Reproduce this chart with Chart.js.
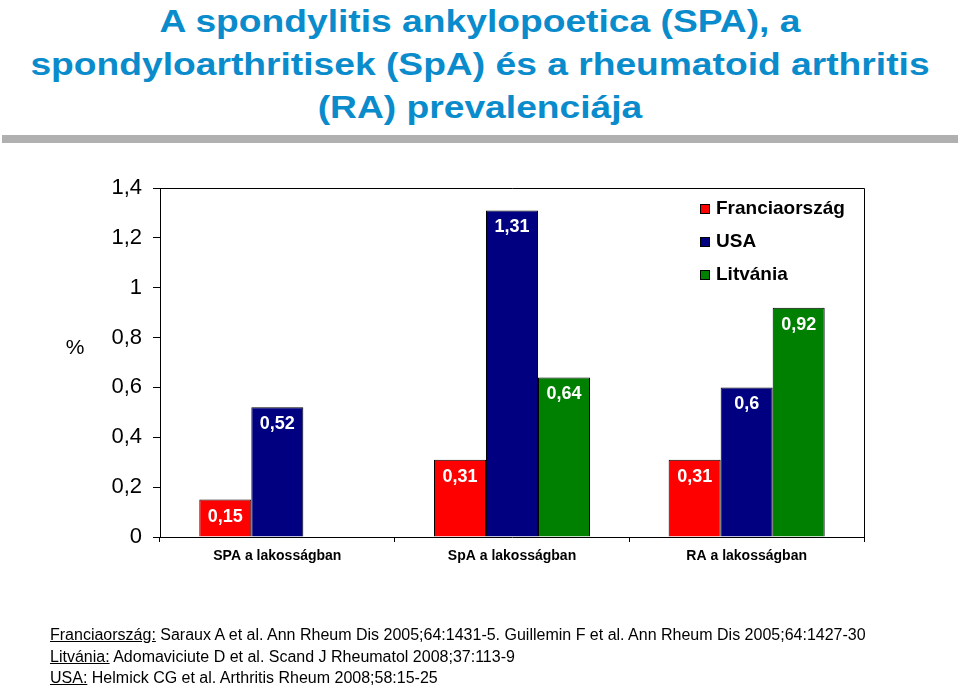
<!DOCTYPE html>
<html>
<head>
<meta charset="utf-8">
<script src="https://cdn.jsdelivr.net/npm/chart.js@4"></script>
<style>
html,body{margin:0;padding:0;background:#fff;}
body{width:960px;height:685px;position:relative;overflow:hidden;font-family:"Liberation Sans",Arial,sans-serif;}
#title{position:absolute;left:0;top:0;width:960px;text-align:center;color:#0a8bcb;font-weight:bold;font-size:31px;line-height:43px;transform:scaleX(1.2);transform-origin:480px 0;}
#bar{position:absolute;left:2px;top:135px;width:956px;height:8px;background:#b0b0b0;}
#chartwrap{position:absolute;left:0;top:0;width:960px;height:685px;}
#notes{position:absolute;left:50px;top:624px;font-family:"Liberation Sans Narrow","Liberation Sans",Arial,sans-serif;font-size:16px;line-height:21.5px;color:#000;}
#notes u{text-decoration:underline;}
</style>
</head>
<body>
<div id="title">A spondylitis ankylopoetica (SPA), a<br>spondyloarthritisek (SpA) és a rheumatoid arthritis<br>(RA) prevalenciája</div>
<div id="bar"></div>
<div id="chartwrap"><canvas id="c" width="960" height="685"></canvas></div>
<div id="notes">
<div><u>Franciaország:</u> Saraux A et al. Ann Rheum Dis 2005;64:1431-5. Guillemin F et al. Ann Rheum Dis 2005;64:1427-30</div>
<div><u>Litvánia:</u> Adomaviciute D et al. Scand J Rheumatol 2008;37:113-9</div>
<div><u>USA:</u> Helmick CG et al. Arthritis Rheum 2008;58:15-25</div>
</div>
<script>
const categories = ["SPA a lakosságban", "SpA a lakosságban", "RA a lakosságban"];
const seriesNames = ["Franciaország", "USA", "Litvánia"];
const franceValues = [0.15, 0.31, 0.31];
const usaValues = [0.52, 1.31, 0.6];
const lithuaniaValues = [null, 0.64, 0.92];
const yTicks = [0, 0.2, 0.4, 0.6, 0.8, 1, 1.2, 1.4];
const colors = ["#ff0000", "#000080", "#008000"];

const fmt = v => String(v).replace('.', ',');

const boxPlugin = {
  id: 'box',
  afterDatasetsDraw(chart) {
    const a = chart.chartArea, ctx = chart.ctx;
    ctx.save();
    ctx.strokeStyle = '#000';
    ctx.lineWidth = 1;
    ctx.beginPath();
    ctx.moveTo(a.left, a.top + 0.5);
    ctx.lineTo(a.right + 0.5, a.top + 0.5);
    ctx.lineTo(a.right + 0.5, a.bottom + 4);
    ctx.stroke();
    ctx.restore();
  }
};

const labelPlugin = {
  id: 'barLabels',
  afterDatasetsDraw(chart) {
    const ctx = chart.ctx;
    ctx.save();
    ctx.fillStyle = '#fff';
    ctx.font = 'bold 18px "Liberation Sans", Arial, sans-serif';
    ctx.textAlign = 'center';
    ctx.textBaseline = 'middle';
    chart.data.datasets.forEach((ds, i) => {
      const meta = chart.getDatasetMeta(i);
      meta.data.forEach((bar, j) => {
        const v = ds.data[j];
        if (v === null || v === undefined) return;
        ctx.fillText(fmt(v), bar.x, bar.y + 17);
      });
    });
    ctx.restore();
  }
};

const percentPlugin = {
  id: 'percent',
  afterDraw(chart) {
    const ctx = chart.ctx;
    ctx.save();
    ctx.fillStyle = '#000';
    ctx.font = '21px "Liberation Sans", Arial, sans-serif';
    ctx.textAlign = 'center';
    ctx.textBaseline = 'middle';
    ctx.fillText('%', 75, 348);
    ctx.restore();
  }
};

new Chart(document.getElementById('c'), {
  type: 'bar',
  data: {
    labels: categories,
    datasets: [
      { label: seriesNames[0], data: franceValues, backgroundColor: colors[0] },
      { label: seriesNames[1], data: usaValues, backgroundColor: colors[1] },
      { label: seriesNames[2], data: lithuaniaValues, backgroundColor: colors[2] }
    ].map(d => Object.assign(d, { borderColor: '#000', borderWidth: 1, categoryPercentage: 0.665, barPercentage: 1 }))
  },
  options: {
    responsive: false,
    animation: false,
    devicePixelRatio: 1,
    layout: { padding: { left: 0, right: 96, top: 188, bottom: 0 } },
    plugins: {
      legend: { display: false },
      tooltip: { enabled: false }
    },
    scales: {
      x: {
        grid: { drawOnChartArea: false, offset: true, tickLength: 5, color: '#000' },
        border: { color: '#000', width: 1 },
        ticks: { color: '#000', font: { family: '"Liberation Sans", Arial, sans-serif', size: 14, weight: 'bold' }, padding: 6, maxRotation: 0 },
        afterFit(s) { s.height = 148; }
      },
      y: {
        min: 0, max: 1.4,
        afterBuildTicks(s) { s.ticks = yTicks.map(v => ({ value: v })); },
        grid: { drawOnChartArea: false, tickLength: 7, color: '#000' },
        border: { color: '#000', width: 1 },
        ticks: { color: '#000', font: { family: '"Liberation Sans", Arial, sans-serif', size: 22 }, padding: 11, callback: v => fmt(v) },
        afterFit(s) { s.width = 160; }
      }
    }
  },
  plugins: [boxPlugin, labelPlugin, percentPlugin, {
    id: 'legendBox',
    afterDraw(chart) {
      const ctx = chart.ctx;
      ctx.save();
      ctx.font = 'bold 19px "Liberation Sans", Arial, sans-serif';
      ctx.textBaseline = 'middle';
      ctx.textAlign = 'left';
      const ys = [209, 242, 275];
      seriesNames.forEach((n, i) => {
        ctx.fillStyle = colors[i];
        ctx.fillRect(700, ys[i] - 5, 10, 10);
        ctx.strokeStyle = '#000';
        ctx.lineWidth = 1;
        ctx.strokeRect(700.5, ys[i] - 4.5, 9, 9);
        ctx.fillStyle = '#000';
        ctx.fillText(n, 716, ys[i]);
      });
      ctx.restore();
    }
  }]
});
</script>
</body>
</html>
